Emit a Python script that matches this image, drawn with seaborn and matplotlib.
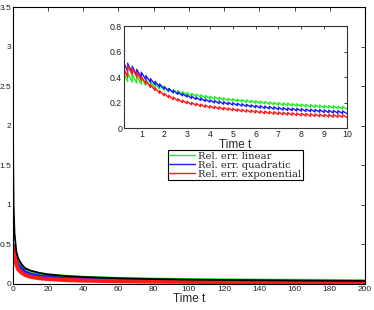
import numpy as np
import pandas as pd
import matplotlib
matplotlib.use("Agg")
import matplotlib.pyplot as plt
import seaborn as sns

# ---------------- data ----------------
# main axes (coarse readings of the decaying errors)
main_t = [0, 0.25, 0.5, 1, 2, 3, 5, 7, 10, 15, 20, 30, 40, 60, 80, 100, 130, 160, 200]
main_lin = [0.40, 0.40, 0.39, 0.36, 0.30, 0.265, 0.22, 0.185, 0.155, 0.13, 0.115, 0.095, 0.083, 0.068, 0.06, 0.054, 0.048, 0.044, 0.04]
main_quad = [0.48, 0.49, 0.46, 0.415, 0.305, 0.24, 0.19, 0.15, 0.12, 0.098, 0.085, 0.068, 0.058, 0.047, 0.041, 0.037, 0.033, 0.03, 0.027]
main_exp = [0.45, 0.44, 0.45, 0.37, 0.255, 0.19, 0.143, 0.115, 0.092, 0.073, 0.063, 0.05, 0.043, 0.035, 0.03, 0.027, 0.024, 0.021, 0.019]
main_black = [3.2, 1.6, 1.0, 0.65, 0.42, 0.33, 0.25, 0.2, 0.17, 0.14, 0.12, 0.1, 0.088, 0.072, 0.062, 0.055, 0.048, 0.043, 0.038]

# inset: tooth start times and centre values of the saw-tooth curves
tooth_t = [0.2, 0.4, 0.6, 0.8, 1.0, 1.2, 1.4, 1.6, 1.8, 2.0, 2.2, 2.4, 2.6, 2.8, 3.0,
           3.2, 3.4, 3.6, 3.8, 4.0, 4.2, 4.4, 4.6, 4.8, 5.0, 5.2, 5.4, 5.6, 5.8, 6.0,
           6.2, 6.4, 6.6, 6.8, 7.0, 7.2, 7.4, 7.6, 7.8, 8.0, 8.2, 8.4, 8.6, 8.8, 9.0,
           9.2, 9.4, 9.6, 9.8, 10.0]
ins_lin = [0.405, 0.398, 0.388, 0.376, 0.364, 0.352, 0.340, 0.328, 0.316, 0.303, 0.294, 0.285, 0.278, 0.271, 0.265,
           0.259, 0.253, 0.248, 0.243, 0.238, 0.234, 0.230, 0.226, 0.222, 0.219, 0.215, 0.212, 0.209, 0.206, 0.203,
           0.200, 0.197, 0.194, 0.191, 0.188, 0.186, 0.184, 0.181, 0.179, 0.177, 0.175, 0.173, 0.171, 0.169, 0.167,
           0.165, 0.163, 0.161, 0.159, 0.157]
ins_quad = [0.485, 0.470, 0.450, 0.428, 0.408, 0.385, 0.364, 0.344, 0.326, 0.308, 0.293, 0.280, 0.268, 0.257, 0.246,
            0.237, 0.229, 0.222, 0.215, 0.209, 0.204, 0.199, 0.195, 0.191, 0.187, 0.183, 0.179, 0.175, 0.171, 0.167,
            0.164, 0.161, 0.158, 0.155, 0.152, 0.149, 0.147, 0.145, 0.143, 0.141, 0.139, 0.137, 0.135, 0.133, 0.131,
            0.129, 0.127, 0.125, 0.123, 0.121]
ins_exp = [0.44, 0.455, 0.435, 0.405, 0.375, 0.345, 0.318, 0.294, 0.273, 0.255, 0.240, 0.227, 0.215, 0.205, 0.196,
           0.188, 0.181, 0.175, 0.169, 0.164, 0.159, 0.155, 0.151, 0.147, 0.143, 0.139, 0.136, 0.133, 0.130, 0.127,
           0.124, 0.122, 0.119, 0.117, 0.115, 0.113, 0.111, 0.109, 0.107, 0.105, 0.103, 0.102, 0.100, 0.099, 0.097,
           0.096, 0.095, 0.094, 0.093, 0.092]
tooth_half = [0.040, 0.038, 0.035, 0.032, 0.030, 0.027, 0.024, 0.022, 0.020, 0.018, 0.017, 0.016, 0.015, 0.014, 0.014,
              0.013, 0.013, 0.013, 0.012, 0.012, 0.012, 0.012, 0.011, 0.011, 0.011, 0.011, 0.011, 0.011, 0.011, 0.011,
              0.011, 0.011, 0.011, 0.011, 0.011, 0.011, 0.011, 0.011, 0.011, 0.011, 0.011, 0.011, 0.011, 0.011, 0.011,
              0.011, 0.011, 0.011, 0.011, 0.011]

labels = ["Rel. err. linear", "Rel. err. quadratic", "Rel. err. exponential"]
colors = ["#22ee22", "#1a1aff", "#ff1a1a"]

x_ticks_main = [0, 20, 40, 60, 80, 100, 120, 140, 160, 180, 200]
y_ticks_main = [0, 0.5, 1, 1.5, 2, 2.5, 3, 3.5]
x_ticks_ins = [1, 2, 3, 4, 5, 6, 7, 8, 9, 10]
y_ticks_ins = [0, 0.2, 0.4, 0.6, 0.8]

# ---------------- style ----------------
sns.set_style("white")
plt.rcParams["font.family"] = ["Liberation Sans", "DejaVu Sans"]
plt.rcParams["xtick.direction"] = "in"
plt.rcParams["ytick.direction"] = "in"

fig = plt.figure(figsize=(3.74, 3.10), dpi=100)
ax = fig.add_axes([0.034, 0.084, 0.942, 0.892])

main_df = pd.DataFrame({"t": main_t, "lin": main_lin, "quad": main_quad,
                        "exp": main_exp, "blk": main_black})
for col, c, lw in zip(["lin", "quad", "exp"], colors, [2.4, 2.6, 3.0]):
    sns.lineplot(data=main_df, x="t", y=col, ax=ax, color=c, lw=lw,
                 estimator=None, sort=False, legend=False)
sns.lineplot(data=main_df, x="t", y="blk", ax=ax, color="black", lw=1.3,
             estimator=None, sort=False, legend=False)

ax.set_xlim(0, 200)
ax.set_ylim(0, 3.5)
ax.set_xticks(x_ticks_main)
ax.set_yticks(y_ticks_main)
ax.set_xticklabels([f"{v:g}" for v in x_ticks_main])
ax.set_yticklabels([f"{v:g}" for v in y_ticks_main])
ax.tick_params(labelsize=6, length=3, width=0.6, top=True, right=True, pad=1.2, colors="#222222")
ax.set_xlabel("Time t", fontsize=8.5, labelpad=0)
ax.set_ylabel("")
for s in ax.spines.values():
    s.set_linewidth(0.8)
    s.set_color("black")

# ---------------- inset ----------------
ins = fig.add_axes([0.332, 0.587, 0.596, 0.329])
handles = []
for vals, c, lab in zip([ins_lin, ins_quad, ins_exp], colors, labels):
    xs, ys = [], []
    for k in range(len(tooth_t) - 1):
        xs += [tooth_t[k], tooth_t[k + 1]]
        ys += [vals[k] + tooth_half[k], vals[k] - tooth_half[k]]
    d = pd.DataFrame({"t": xs, "v": ys})
    sns.lineplot(data=d, x="t", y="v", ax=ins, color=c, lw=1.0,
                 estimator=None, sort=False, legend=False)
    handles.append(plt.Line2D([], [], color=c, lw=1.0, label=lab))

ins.set_xlim(0.25, 10)
ins.set_ylim(0, 0.8)
ins.set_xticks(x_ticks_ins)
ins.set_yticks(y_ticks_ins)
ins.set_xticklabels([f"{v:g}" for v in x_ticks_ins])
ins.set_yticklabels([f"{v:g}" for v in y_ticks_ins])
ins.tick_params(labelsize=6.3, length=2.5, width=0.6, top=True, right=True, pad=1.5, colors="#222222")
ins.set_xlabel("Time t", fontsize=8.5, labelpad=0)
ins.set_ylabel("")
for s in ins.spines.values():
    s.set_linewidth(0.8)
    s.set_color("#333333")

leg = fig.legend(handles=handles, loc="upper left", bbox_to_anchor=(0.449, 0.516),
                 prop={"family": ["DejaVu Serif"], "size": 7.2}, frameon=True, fancybox=False,
                 edgecolor="black", framealpha=1, borderpad=0.15, labelspacing=0.0,
                 handlelength=2.6, handletextpad=0.3, borderaxespad=0)
leg.get_frame().set_linewidth(0.8)

fig.savefig("out.png", dpi=100)
